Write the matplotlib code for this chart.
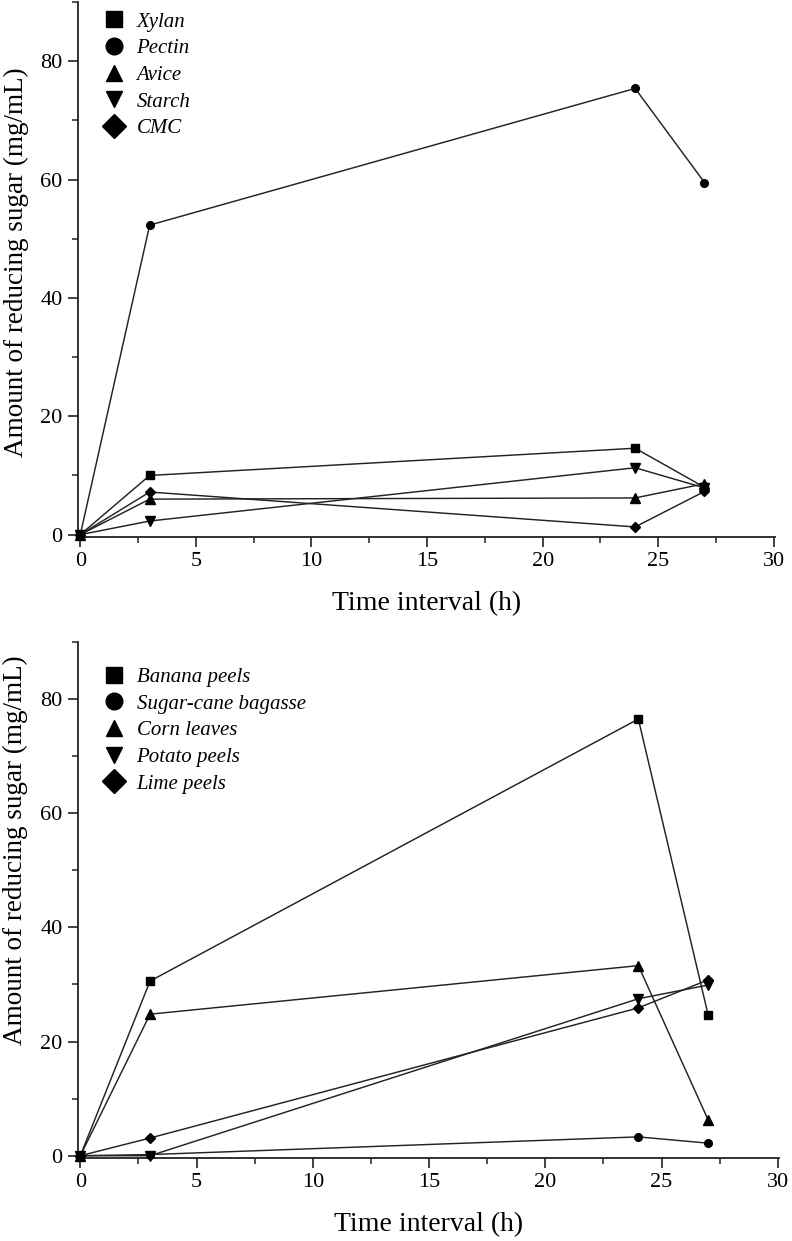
import matplotlib
matplotlib.use("Agg")
import matplotlib.pyplot as plt
from matplotlib.ticker import MultipleLocator

plt.rcParams['font.family'] = ['Liberation Serif', 'DejaVu Serif']

# ---- data ----
time_h = [0, 3, 24, 27]

top_labels = ["Xylan", "Pectin", "Avice", "Starch", "CMC"]
xylan = [0, 10.0, 14.6, 8.0]
pectin = [0, 52.3, 75.4, 59.5]
avice = [0, 6.0, 6.2, 8.6]
starch = [0, 2.3, 11.3, 7.9]
cmc = [0, 7.2, 1.3, 7.3]

bottom_labels = ["Banana peels", "Sugar-cane bagasse", "Corn leaves", "Potato peels", "Lime peels"]
banana = [0, 30.6, 76.5, 24.7]
bagasse = [0, 0.2, 3.3, 2.2]
corn = [0, 24.8, 33.3, 6.3]
potato = [0, 0.0, 27.5, 29.9]
lime = [0, 3.1, 25.9, 30.8]

x_ticks = [0, 5, 10, 15, 20, 25, 30]
y_ticks = [0, 20, 40, 60, 80]

markers = ['s', 'o', '^', 'v', 'D']
msizes = [5.5, 5.5, 6.5, 6.5, 5.5]

W, H = 792, 1241
fig = plt.figure(figsize=(W / 100, H / 100), dpi=100)

def px_axes(left, top, right, bottom):
    return fig.add_axes([left / W, 1 - bottom / H, (right - left) / W, (bottom - top) / H])

ax1 = px_axes(78, 2, 775, 537)
ax2 = px_axes(78, 642, 779, 1158)

def style(ax, series, labels, leg_anchor, ylabel_y):
    for vals, lab, m, ms in zip(series, labels, markers, msizes):
        ax.plot(time_h, vals, color='#222222', lw=1.05, marker=m, ms=ms,
                markerfacecolor='black', markeredgecolor='black', label=lab, clip_on=False, zorder=3)
    ax.set_xlim(-0.1, 30.05)
    ax.set_ylim(-0.4, 90)
    ax.set_xticks(x_ticks)
    ax.set_yticks(y_ticks)
    ax.xaxis.set_minor_locator(MultipleLocator(2.5))
    ax.yaxis.set_minor_locator(MultipleLocator(10))
    for s in ['top', 'right']:
        ax.spines[s].set_visible(False)
    for s in ['left', 'bottom']:
        ax.spines[s].set_linewidth(1.3)
        ax.spines[s].set_color('#222222')
    ax.tick_params(which='major', direction='out', length=7, width=1.2, labelsize=16, pad=4, colors='#222222')
    ax.tick_params(which='minor', direction='out', length=4, width=1.1, colors='#222222')
    for t in ax.get_xticklabels() + ax.get_yticklabels():
        t.set_color('black')
    ax.set_xlabel("Time interval (h)", fontsize=20, labelpad=14)
    ax.set_ylabel("Amount of reducing sugar (mg/mL)", fontsize=19.5)
    ax.yaxis.set_label_coords(-0.071, ylabel_y)
    handles, labs = ax.get_legend_handles_labels()
    leg = ax.legend(handles, labs, loc='upper left', frameon=False,
                    bbox_to_anchor=leg_anchor, handlelength=0.6, handletextpad=0.8,
                    labelspacing=0.34, borderaxespad=0.0, borderpad=0.0,
                    prop={'family': 'Liberation Serif', 'style': 'italic', 'size': 15})
    for lh in leg.legend_handles:
        lh.set_linestyle('none')
        lh.set_markersize(12)

style(ax1, [xylan, pectin, avice, starch, cmc], top_labels, (0.042, 0.981), 0.514)
style(ax2, [banana, bagasse, corn, potato, lime], bottom_labels, (0.042, 0.951), 0.596)

fig.savefig("out.png", dpi=100)
